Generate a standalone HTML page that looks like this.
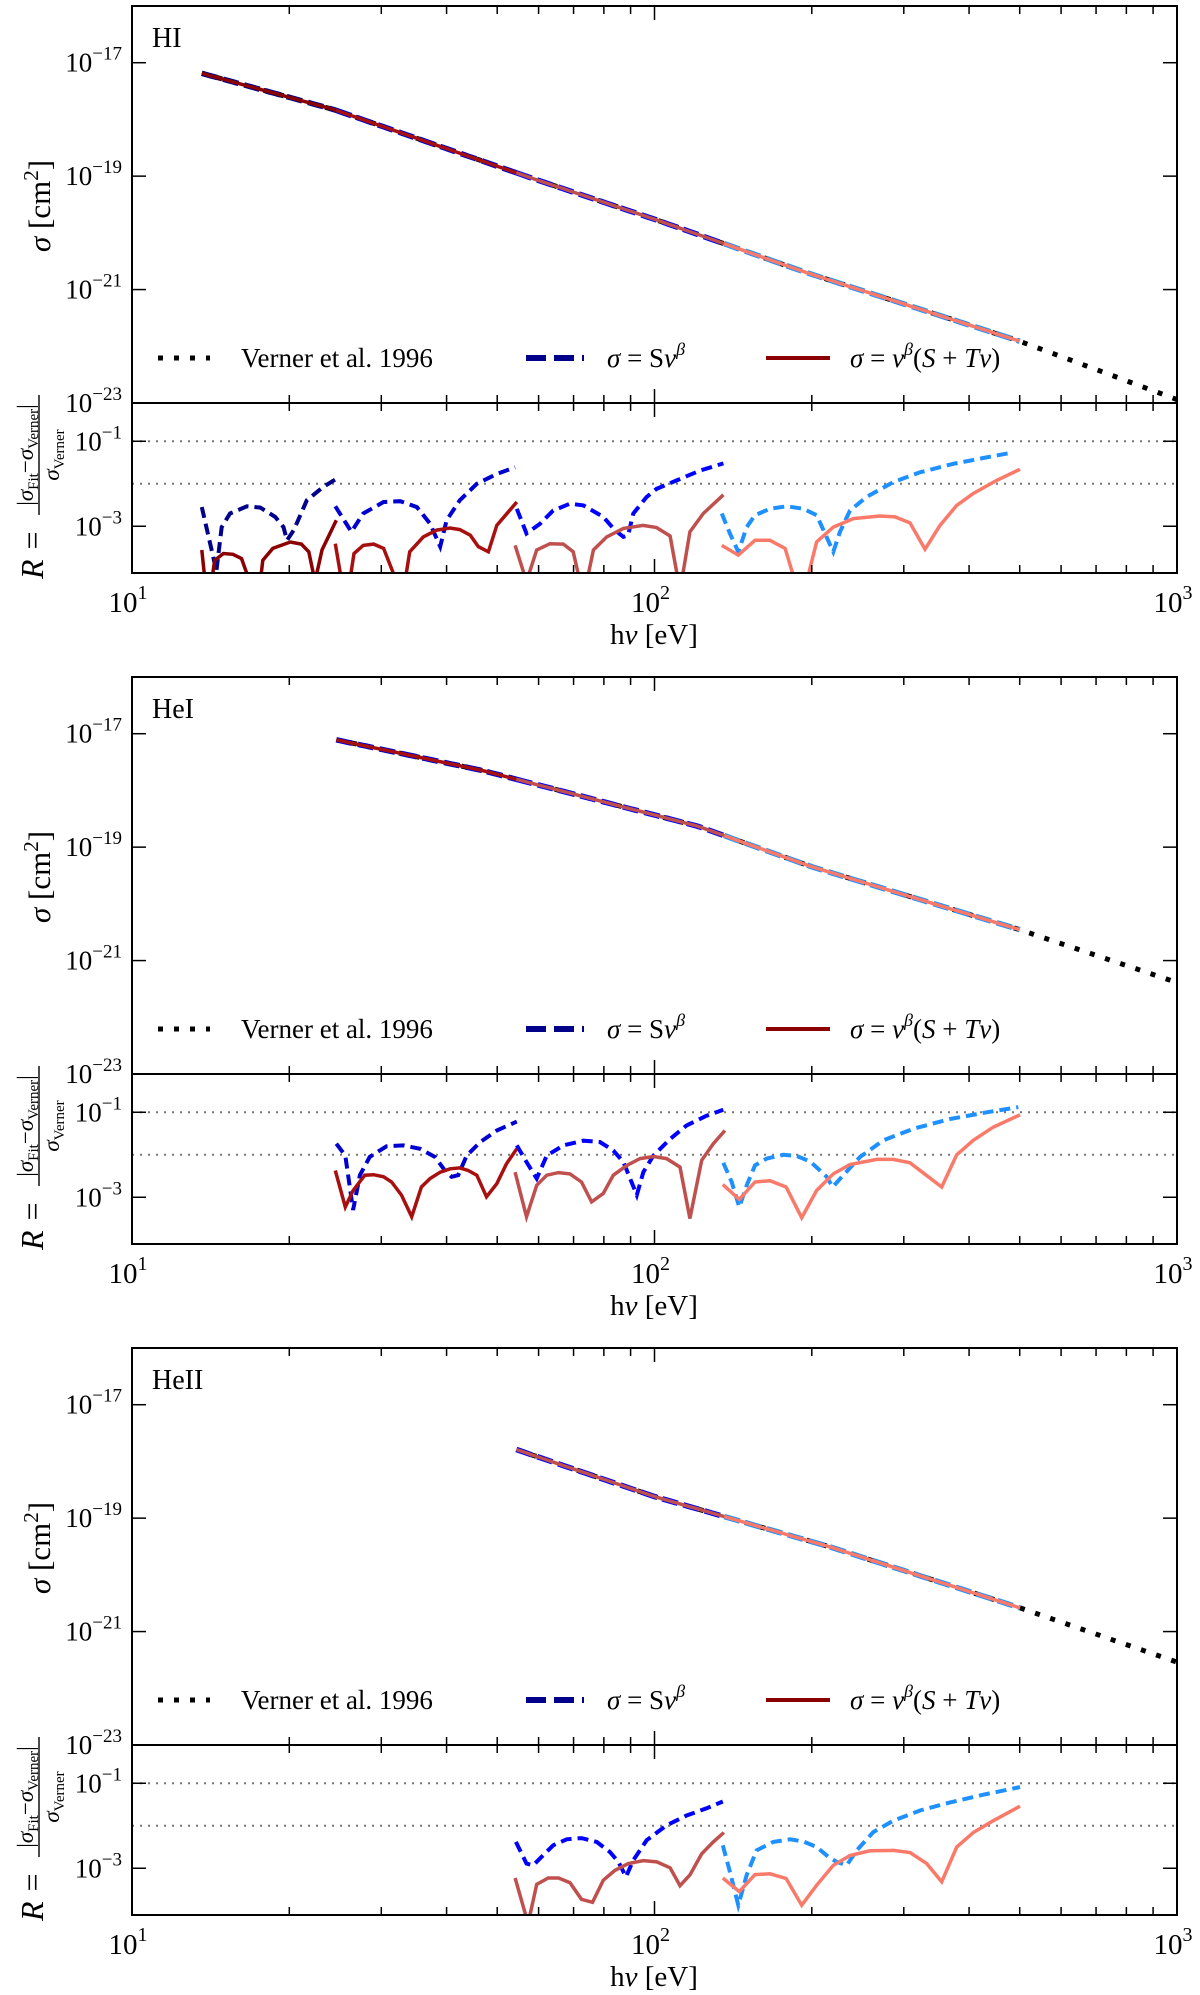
<!DOCTYPE html>
<html><head><meta charset="utf-8"><style>
html,body{margin:0;padding:0;background:#fff;}
svg{display:block;font-family:"Liberation Serif",serif;}
</style></head><body>
<svg id="chart" xmlns="http://www.w3.org/2000/svg" width="1200" height="1995" viewBox="0 0 1200 1995"></svg>
<script>
// ---------- DATA ----------
const panelNames = ["HI", "HeI", "HeII"];
// Verner et al. 1996 cross sections (eV, cm^2)
const hiVernerE = [13.6, 24.3, 59.3, 100, 195, 500, 1000];
const hiVernerSigma = [6.5e-18, 1.5e-18, 8.7e-20, 1.74e-20, 2.0e-21, 1.23e-22, 1.15e-23];
const heiVernerE = [24.6, 46.9, 121, 200, 500, 1000];
const heiVernerSigma = [7.8e-18, 2.24e-18, 2.34e-19, 4.5e-20, 3.5e-21, 4.1e-22];
const heiiVernerE = [54.4, 100, 217, 500, 1000];
const heiiVernerSigma = [1.62e-18, 2.4e-19, 3.1e-20, 2.63e-21, 2.9e-22];
// fit energy-range boundaries (eV)
const hiFitBounds = [13.6, 24.6, 54.4, 136, 500];
const heiFitBounds = [24.6, 54.4, 136, 500];
const heiiFitBounds = [54.4, 136, 500];
// residual curves: energies (eV) and log10 R
const hiBlue1E = [13.6,14.3,14.5,14.85,15.4,16.6,17.6,18.8,19.5,19.8,20.4,21.6,23.2,24.5];
const hiBlue1L = [-2.55,-3.72,-4.07,-3.02,-2.70,-2.53,-2.56,-2.78,-3.02,-3.33,-3.09,-2.39,-2.08,-1.90];
const hiRed1E = [13.6,13.8,14.2,14.4,14.96,15.6,16.2,16.8,17.6,17.8,18.6,20.1,21.1,21.8,22.4,23.1,24.6];
const hiRed1L = [-3.56,-4.3,-4.3,-3.8,-3.64,-3.66,-3.76,-4.3,-4.3,-3.8,-3.52,-3.37,-3.42,-3.6,-4.3,-3.56,-2.86];
const hiBlue2E = [24.5,26.3,27.7,30.3,32.6,35.1,37.2,38.9,40.0,42.4,45.7,49.9,54.1];
const hiBlue2L = [-2.53,-3.13,-2.70,-2.43,-2.41,-2.55,-2.94,-3.48,-2.86,-2.39,-2.0,-1.77,-1.61];
const hiRed2E = [24.5,25.2,26.1,26.6,27.7,29.0,30.3,32.1,33.3,34.0,36.1,38.3,40.6,42.4,44.4,46.0,48.1,49.9,54.5];
const hiRed2L = [-3.41,-4.3,-4.3,-3.64,-3.45,-3.42,-3.52,-4.3,-4.3,-3.60,-3.25,-3.09,-3.04,-3.08,-3.21,-3.48,-3.60,-2.98,-2.43];
const hiBlue3E = [54.5,56.9,60.4,64.0,68.9,73.1,79.8,84.0,87.2,89,91.1,96.6,100.9,110.3,122.2,135.5];
const hiBlue3L = [-2.59,-3.17,-2.94,-2.63,-2.47,-2.51,-2.78,-3.09,-3.25,-3.21,-2.70,-2.31,-2.12,-1.92,-1.69,-1.52];
const hiRed3E = [54.1,56.9,59.5,63.1,66.9,69.9,72.0,74.2,76.4,81.0,87.2,95.1,100.9,107.1,111.1,112.7,116.9,124.0,135.5];
const hiRed3L = [-3.45,-4.3,-3.56,-3.41,-3.42,-3.6,-4.3,-4.3,-3.56,-3.25,-3.05,-2.98,-3.03,-3.23,-4.3,-4.3,-3.13,-2.70,-2.26];
const hiBlue4E = [134.5,139.4,144.7,150.1,155.7,166.3,179.1,192.7,204.3,212.0,219.9,226.5,236.7,254.7,286.5,322.2,373.2,432.2,486.2];
const hiBlue4L = [-2.70,-3.17,-3.60,-3.02,-2.74,-2.59,-2.53,-2.59,-2.74,-3.17,-3.60,-3.13,-2.63,-2.31,-1.96,-1.73,-1.53,-1.38,-1.26];
const hiRed4E = [134.5,144.7,155.7,166.3,177.8,185.8,195.6,204.3,219.9,240.2,270.2,288.6,308.3,329.4,351.9,378.7,407.6,451.7,500.6];
const hiRed4L = [-3.45,-3.68,-3.33,-3.33,-3.52,-4.3,-4.3,-3.37,-3.02,-2.82,-2.76,-2.78,-2.92,-3.54,-2.98,-2.51,-2.23,-1.92,-1.66];

const heiBlue1E = [24.6,25.6,26.5,27.3,28.5,30.7,33.1,35.6,38.0,39.7,40.9,42.1,43.7,46.4,49.9,54.5];
const heiBlue1L = [-1.74,-2.02,-3.30,-2.48,-2.05,-1.80,-1.78,-1.86,-2.05,-2.37,-2.52,-2.48,-2.02,-1.70,-1.43,-1.22];
const heiRed1E = [24.5,25.6,26.5,27.9,29.0,30.3,31.4,32.8,34.3,35.8,37.2,38.9,40.6,42.4,44.0,45.7,47.7,49.9,52.1,54.5];
const heiRed1L = [-2.37,-3.23,-2.84,-2.48,-2.47,-2.52,-2.64,-2.95,-3.46,-2.76,-2.56,-2.41,-2.33,-2.31,-2.37,-2.48,-2.99,-2.68,-2.21,-1.86];
const heiBlue2E = [54.5,56.9,59.5,62.2,66.9,73.1,78.6,83.4,87.2,89.8,92.5,95.2,99.5,107.1,115.2,125.8,135.4];
const heiBlue2L = [-1.78,-2.17,-2.56,-2.02,-1.78,-1.67,-1.70,-1.90,-2.17,-2.56,-2.95,-2.41,-2.02,-1.63,-1.31,-1.08,-0.94];
const heiRed2E = [54.1,56.9,59.5,62.2,65.5,68.9,72.5,75.8,79.8,83.4,88.5,93.8,99.5,105.5,111.9,116.9,123.1,129.6,136.4];
const heiRed2L = [-2.41,-3.46,-2.72,-2.48,-2.42,-2.45,-2.64,-3.11,-2.91,-2.48,-2.25,-2.09,-2.04,-2.09,-2.29,-3.50,-2.13,-1.74,-1.43];
const heiBlue3E = [135.4,140.5,145.3,150.1,155.7,163.9,176.4,187.2,198.5,207.4,213.6,219.3,229.8,247.4,274.2,312.9,367.9,432.2,497.0];
const heiBlue3L = [-2.19,-2.64,-3.23,-2.72,-2.25,-2.09,-2.0,-2.03,-2.16,-2.37,-2.52,-2.76,-2.48,-2.05,-1.66,-1.39,-1.16,-1.0,-0.88];
const heiRed3E = [135.1,145.3,155.7,166.3,178.6,191.3,204.3,219.9,236.7,266.2,286.5,308.3,354.5,378.7,407.6,445.1,500.6];
const heiRed3L = [-2.70,-3.05,-2.64,-2.61,-2.76,-3.48,-2.84,-2.45,-2.23,-2.11,-2.11,-2.19,-2.76,-2.0,-1.66,-1.35,-1.06];

const heiiBlue1E = [54.3,56.9,58.6,60.8,64.0,67.9,72.5,77.5,82.2,85.3,88.2,91.1,96.6,105.5,115.2,125.8,135.1];
const heiiBlue1L = [-2.38,-2.89,-2.93,-2.73,-2.46,-2.32,-2.29,-2.38,-2.62,-2.85,-3.20,-2.81,-2.34,-1.99,-1.76,-1.59,-1.43];
const heiiRed1E = [54.1,57.3,59.5,62.6,65.5,68.9,72.5,76.1,79.8,84.0,89.1,95.2,101.0,107.1,111.9,116.9,123.1,129.6,135.8];
const heiiRed1L = [-3.23,-4.3,-3.38,-3.23,-3.23,-3.34,-3.73,-3.80,-3.28,-3.05,-2.89,-2.82,-2.85,-2.99,-3.41,-3.16,-2.66,-2.38,-2.16];
const heiiBlue2E = [135.1,139.5,144.7,150.1,156.8,168.8,181.7,192.7,204.3,215.1,223.2,233.3,243.8,262.3,286.5,322.2,367.9,425.9,500.6];
const heiiBlue2L = [-2.46,-3.09,-3.87,-3.16,-2.58,-2.38,-2.32,-2.37,-2.50,-2.73,-2.85,-2.93,-2.58,-2.15,-1.88,-1.64,-1.45,-1.27,-1.09];
const heiiRed2E = [135.1,145.3,155.7,166.3,178.6,191.3,204.3,219.9,236.7,258.5,286.5,308.3,331.9,354.5,378.7,407.6,445.1,500.6];
const heiiRed2L = [-3.23,-3.55,-3.15,-3.13,-3.24,-3.87,-3.40,-2.93,-2.70,-2.59,-2.58,-2.63,-2.89,-3.32,-2.50,-2.16,-1.88,-1.54];

const yMainTickExps = [-17, -19, -21, -23];
const yRatioTickExps = [-1, -3];
const refLevels = [0.1, 0.01];
const xTickExps = [1, 2, 3];

// ---------- RENDER ----------
const NS = "http://www.w3.org/2000/svg";
const svg = document.getElementById("chart");
const X0 = 132, X1 = 1177, DEC = 522.5;
const MAIN_H = 397, RAT_H = 170, PANEL_STEP = 671;
function lx(E){ return X0 + (Math.log10(E) - 1) * DEC; }
function yMain(T, logS){ return T + MAIN_H - (logS + 23) * (MAIN_H / 7); }
function yRat(T, l){ return T + MAIN_H + (-0.1 - l) * (RAT_H / 4); }
function el(tag, attrs, parent){
  const e = document.createElementNS(NS, tag);
  for (const k in attrs) e.setAttribute(k, attrs[k]);
  (parent || svg).appendChild(e);
  return e;
}
function interpLog(Es, Ss, E){
  const lE = Math.log10(E);
  for (let i = 0; i < Es.length - 1; i++){
    const a = Math.log10(Es[i]), b = Math.log10(Es[i+1]);
    if (lE <= b || i === Es.length - 2){
      const t = (lE - a) / (b - a);
      return Math.log10(Ss[i]) + t * (Math.log10(Ss[i+1]) - Math.log10(Ss[i]));
    }
  }
}
const blueCols = {"13.6":"#00008b","24.6":"#0000d0","54.4":"#0000ff","136":"#1e90ff"};
const redCols = {"13.6":"#8b0000","24.6":"#a81010","54.4":"#c0504d","136":"#fa7a6a"};

const panels = [
  {name:"HI", vE:hiVernerE, vS:hiVernerSigma, bounds:hiFitBounds,
   blue:[[hiBlue1E,hiBlue1L],[hiBlue2E,hiBlue2L],[hiBlue3E,hiBlue3L],[hiBlue4E,hiBlue4L]],
   red:[[hiRed1E,hiRed1L],[hiRed2E,hiRed2L],[hiRed3E,hiRed3L],[hiRed4E,hiRed4L]]},
  {name:"HeI", vE:heiVernerE, vS:heiVernerSigma, bounds:heiFitBounds,
   blue:[[heiBlue1E,heiBlue1L],[heiBlue2E,heiBlue2L],[heiBlue3E,heiBlue3L]],
   red:[[heiRed1E,heiRed1L],[heiRed2E,heiRed2L],[heiRed3E,heiRed3L]]},
  {name:"HeII", vE:heiiVernerE, vS:heiiVernerSigma, bounds:heiiFitBounds,
   blue:[[heiiBlue1E,heiiBlue1L],[heiiBlue2E,heiiBlue2L]],
   red:[[heiiRed1E,heiiRed1L],[heiiRed2E,heiiRed2L]]}
];

panels.forEach((p, pi) => {
  const T = 6 + pi * PANEL_STEP;
  const g = el("g", {});
  
  

  const defs = el("defs", {}, g);
  const cm = el("clipPath", {id:"cm"+pi}, defs);
  el("rect", {x:X0, y:T, width:X1-X0, height:MAIN_H}, cm);
  const cr = el("clipPath", {id:"cr"+pi}, defs);
  el("rect", {x:X0, y:T+MAIN_H, width:X1-X0, height:RAT_H}, cr);

  const mg = el("g", {"clip-path":"url(#cm"+pi+")"}, g);
  
  
  let pts = [];
  const e0 = p.vE[0];
  for (let i = 0; i <= 80; i++){
    const E = Math.pow(10, Math.log10(e0) + (3 - Math.log10(e0)) * i / 80);
    pts.push(lx(E).toFixed(1) + "," + yMain(T, interpLog(p.vE, p.vS, E)).toFixed(1));
  }
  const vl = el("polyline", {points:pts.join(" "), fill:"none", stroke:"#000", "stroke-width":5, "stroke-dasharray":"5 11"}, mg);
  
  
  for (let layer = 0; layer < 2; layer++){
    for (let s = 0; s < p.bounds.length - 1; s++){
      const a = p.bounds[s], b = p.bounds[s+1];
      const fp = [];
      for (let i = 0; i <= 30; i++){
        const E = Math.pow(10, Math.log10(a) + (Math.log10(b) - Math.log10(a)) * i / 30);
        fp.push(lx(E).toFixed(1) + "," + yMain(T, interpLog(p.vE, p.vS, E)).toFixed(1));
      }
      const key = String(a);
      if (layer === 0){
        const bl = el("polyline", {points:fp.join(" "), fill:"none", stroke:blueCols[key], "stroke-width":5.5, "stroke-dasharray":"16 6"}, mg);
        
        
      } else {
        const rl = el("polyline", {points:fp.join(" "), fill:"none", stroke:redCols[key], "stroke-width":3.5}, mg);
        
        
      }
    }
  }

  const rg = el("g", {"clip-path":"url(#cr"+pi+")"}, g);
  
  
  refLevels.forEach(v => {
    const y = yRat(T, Math.log10(v));
    const rl = el("line", {x1:X0, x2:X1, y1:y, y2:y, stroke:"#777", "stroke-width":2, "stroke-dasharray":"2 6"}, rg);
    
    
  });
  const segKeys = p.bounds.slice(0, -1).map(String);
  p.blue.forEach((c, i) => {
    const pp = c[0].map((E, j) => lx(E).toFixed(1) + "," + yRat(T, c[1][j]).toFixed(1)).join(" ");
    const l = el("polyline", {points:pp, fill:"none", stroke:blueCols[segKeys[i]], "stroke-width":4, "stroke-dasharray":"11 6"}, rg);
    
    
  });
  p.red.forEach((c, i) => {
    const pp = c[0].map((E, j) => lx(E).toFixed(1) + "," + yRat(T, c[1][j]).toFixed(1)).join(" ");
    const l = el("polyline", {points:pp, fill:"none", stroke:redCols[segKeys[i]], "stroke-width":3.5, "stroke-linejoin":"miter"}, rg);
    
    
  });

  const f1 = el("rect", {x:X0, y:T, width:X1-X0, height:MAIN_H, fill:"none", stroke:"#000", "stroke-width":2}, g);
  
  
  const f2 = el("rect", {x:X0, y:T+MAIN_H, width:X1-X0, height:RAT_H, fill:"none", stroke:"#000", "stroke-width":2}, g);
  
  

  const edges = [[T,1],[T+MAIN_H,-1],[T+MAIN_H,1],[T+MAIN_H+RAT_H,-1]];
  for (let d = 1; d <= 2; d++){
    for (let m = 1; m <= 9; m++){
      const x = lx(m * Math.pow(10, d));
      const len = m === 1 ? 14 : 8;
      edges.forEach(([y, dir]) => el("line", {x1:x, x2:x, y1:y, y2:y + dir*len, stroke:"#000", "stroke-width":1.5}, g));
    }
  }
  yMainTickExps.forEach(e => {
    const y = yMain(T, e);
    el("line", {x1:X0, x2:X0+14, y1:y, y2:y, stroke:"#000", "stroke-width":1.5}, g);
    el("line", {x1:X1, x2:X1-14, y1:y, y2:y, stroke:"#000", "stroke-width":1.5}, g);
    const t = el("text", {x:122, y:y+9, "font-size":27, "text-anchor":"end"}, g);
    
    
    t.innerHTML = '10<tspan dy="-12" font-size="19">\u2212' + (-e) + '</tspan>';
  });
  yRatioTickExps.forEach(e => {
    const y = yRat(T, e);
    el("line", {x1:X0, x2:X0+14, y1:y, y2:y, stroke:"#000", "stroke-width":1.5}, g);
    el("line", {x1:X1, x2:X1-14, y1:y, y2:y, stroke:"#000", "stroke-width":1.5}, g);
    const t = el("text", {x:122, y:y+9, "font-size":27, "text-anchor":"end"}, g);
    
    
    t.innerHTML = '10<tspan dy="-12" font-size="19">\u2212' + (-e) + '</tspan>';
  });
  xTickExps.forEach(e => {
    const t = el("text", {x:lx(Math.pow(10, e)) - 4, y:T+606, "font-size":29, "text-anchor":"middle"}, g);
    
    
    t.innerHTML = '10<tspan dy="-13" font-size="20">' + e + '</tspan>';
  });
  const xl = el("text", {x:654, y:T+638, "font-size":29, "text-anchor":"middle"}, g);
  
  
  xl.innerHTML = 'h<tspan font-style="italic">\u03bd</tspan>  [eV]';

  const pl = el("text", {x:152, y:T+41, "font-size":28}, g);
  
  
  pl.textContent = p.name;

  const yt = el("text", {transform:"translate(50," + (T+200) + ") rotate(-90)", "font-size":31, "text-anchor":"middle"}, g);
  
  
  yt.innerHTML = '<tspan font-style="italic">\u03c3</tspan>  [cm<tspan dy="-12" font-size="21">2</tspan><tspan dy="12">]</tspan>';

  const rt = el("g", {transform:"translate(0," + (T+481) + ") rotate(-90)"}, g);
  
  
  el("text", {x:-92, y:43, "font-size":32, "font-style":"italic"}, rt).textContent = "R =";
  el("line", {x1:-28, x2:92, y1:39, y2:39, stroke:"#000", "stroke-width":1.4}, rt);
  const num = el("text", {x:32, y:33, "font-size":23, "text-anchor":"middle"}, rt);
  num.innerHTML = '|<tspan font-style="italic">\u03c3</tspan><tspan font-size="15" dy="5">Fit</tspan><tspan dy="-5">\u2212</tspan><tspan font-style="italic">\u03c3</tspan><tspan font-size="15" dy="5">Verner</tspan><tspan dy="-5">|</tspan>';
  const den = el("text", {x:32, y:59, "font-size":23, "text-anchor":"middle"}, rt);
  den.innerHTML = '<tspan font-style="italic">\u03c3</tspan><tspan font-size="15" dy="5">Verner</tspan>';

  const lg = el("g", {}, g);
  
  
  const ly = T + 352;
  el("line", {x1:158, x2:210, y1:ly, y2:ly, stroke:"#000", "stroke-width":5, "stroke-dasharray":"5 11"}, lg);
  const lt1 = el("text", {x:241, y:ly+9, "font-size":27}, lg);
  
  
  lt1.textContent = "Verner et al. 1996";
  el("line", {x1:526, x2:584, y1:ly, y2:ly, stroke:"#00008b", "stroke-width":6, "stroke-dasharray":"20 8"}, lg);
  const lt2 = el("text", {x:607, y:ly+9, "font-size":27}, lg);
  
  
  lt2.innerHTML = '<tspan font-style="italic">\u03c3</tspan> = S<tspan font-style="italic">\u03bd</tspan><tspan dy="-12" font-size="18" font-style="italic">\u03b2</tspan>';
  el("line", {x1:766, x2:830, y1:ly, y2:ly, stroke:"#8b0000", "stroke-width":4}, lg);
  const lt3 = el("text", {x:850, y:ly+9, "font-size":27}, lg);
  
  
  lt3.innerHTML = '<tspan font-style="italic">\u03c3</tspan> = <tspan font-style="italic">\u03bd</tspan><tspan dy="-12" font-size="18" font-style="italic">\u03b2</tspan><tspan dy="12">(</tspan><tspan font-style="italic">S</tspan> + <tspan font-style="italic">T\u03bd</tspan>)';
});
</script>
</body></html>
